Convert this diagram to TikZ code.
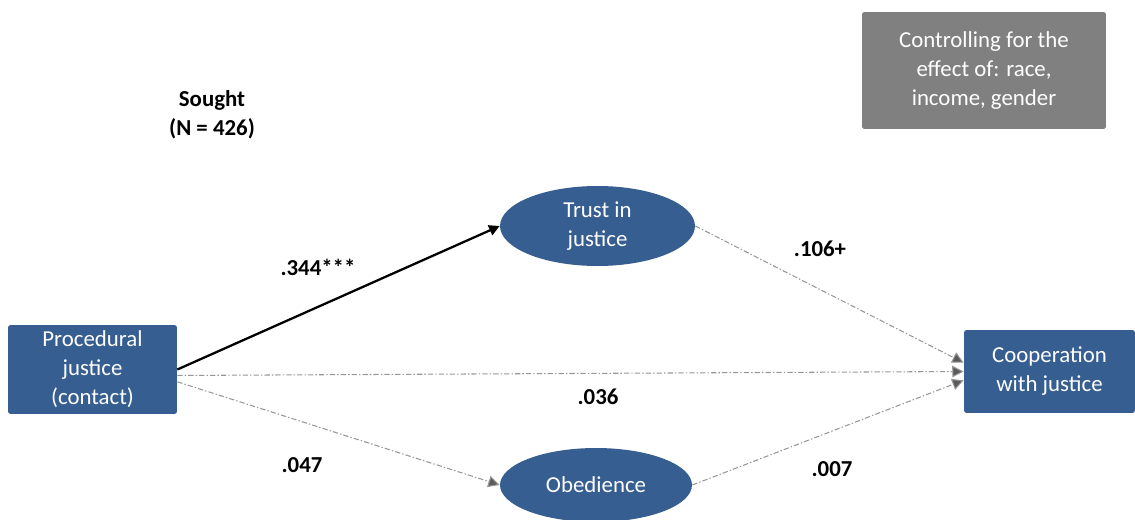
\documentclass[tikz,border=0pt]{standalone}
\usepackage{fontspec}
\setmainfont{Carlito}
\usetikzlibrary{arrows.meta,shapes.geometric}
\definecolor{boxblue}{RGB}{54,94,145}
\definecolor{ctrlgray}{RGB}{128,128,128}
\definecolor{pathgray}{RGB}{150,150,150}
\definecolor{tipgray}{RGB}{90,90,90}

\begin{document}
\begin{tikzpicture}[x=0.02cm,y=-0.02cm,
   font=\fontsize{13}{16.5}\selectfont,
   varbox/.style={rectangle,rounded corners=1.5pt,fill=boxblue,text=white,align=center,inner sep=0pt},
   varell/.style={ellipse,fill=boxblue,text=white,align=center,inner sep=0pt},
   coef/.style={font=\fontsize{13}{16.5}\selectfont\bfseries},
   sigpath/.style={-{Triangle[length=6pt,width=6pt]},line width=1.3pt},
   nspath/.style={-{Triangle[length=6.5pt,width=6.5pt,fill=tipgray]},draw=pathgray,line width=0.6pt,
     dash pattern=on 3pt off 1.2pt on 0.8pt off 1.2pt}]
   % frame
   \path[use as bounding box] (0,0) rectangle (1135,520);
   % variables
   \node[varbox,minimum width=3.38cm,minimum height=1.78cm] (proc) at (92.5,369.5) {Procedural\\justice\\(contact)};
   \node[varbox,minimum width=3.42cm,minimum height=1.66cm] (coop) at (1049.5,371.5) {Cooperation\\with justice};
   \node[varell,minimum width=3.9cm,minimum height=1.6cm] (trust) at (597.5,226) {Trust in\\justice};
   \node[varell,minimum width=3.84cm,minimum height=1.48cm] (obed) at (596,485) {Obedience};
   % controls
   \node[rectangle,rounded corners=1pt,fill=ctrlgray,text=white,align=center,minimum width=4.88cm,minimum height=2.34cm] (ctrl) at (984,70.5) {Controlling for the\\effect of: race,\\income, gender};
   \node[coef,align=center] (title) at (212,114.5) {Sought\\(N = 426)};
   % paths
   \draw[sigpath] (proc.east) -- (trust.west);
   \draw[nspath] (trust.east) -- ([yshift=5pt]coop.west);
   \draw[nspath] ([yshift=-3.4pt]proc.east) -- (coop.west);
   \draw[nspath] ([yshift=-7pt]proc.east) -- (obed.west);
   \draw[nspath] (obed.east) -- ([yshift=-5pt]coop.west);
   % coefficients
   \node[coef] (c1) at (318,267) {.344***};
   \node[coef] (c2) at (820,249) {.106+};
   \node[coef] (c3) at (598,397) {.036};
   \node[coef] (c4) at (302,465) {.047};
   \node[coef] (c5) at (832,469) {.007};
\end{tikzpicture}
\end{document}
